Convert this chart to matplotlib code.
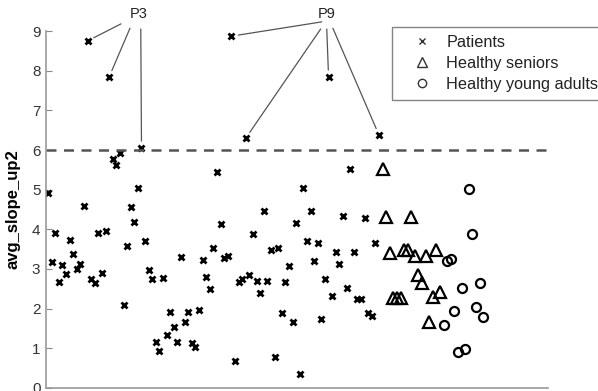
import numpy as np
import matplotlib
matplotlib.use("Agg")
import matplotlib.pyplot as plt
from matplotlib.lines import Line2D

plt.rcParams['font.family'] = ['Liberation Sans', 'DejaVu Sans']

# avg_slope_up2 per subject, in plotting order
patients = [4.91, 3.18, 3.91, 2.67, 3.10, 2.87, 3.73, 3.38, 3.00, 3.13,
            4.59, 8.75, 2.75, 2.65, 3.91, 2.90, 3.96, 7.84, 5.77, 5.62,
            5.93, 2.09, 3.58, 4.56, 4.18, 5.04, 6.05, 3.71, 2.97, 2.75,
            1.16, 0.93, 2.77, 1.34, 1.92, 1.54, 1.16, 3.30, 1.66, 1.92,
            1.13, 1.03, 1.97, 3.22, 2.80, 2.49, 3.53, 5.44, 4.13, 3.28,
            3.33, 8.87, 0.68, 2.67, 2.75, 6.30, 2.85, 3.88, 2.70, 2.40,
            4.46, 2.70, 3.48, 0.78, 3.53, 1.89, 2.67, 3.07, 1.66, 4.16,
            0.36, 5.04, 3.71, 4.46, 3.20, 3.65, 1.74, 2.75, 7.84, 2.32,
            3.43, 3.13, 4.34, 2.52, 5.52, 3.43, 2.24, 2.24, 4.29, 1.89,
            1.82, 3.65, 6.38]
seniors = [5.52, 4.31, 3.40, 2.27, 2.27, 2.27, 3.48, 3.48, 4.31, 3.33,
           2.85, 2.65, 3.33, 1.66, 2.29, 3.48, 2.42]
young = [1.59, 3.20, 3.25, 1.94, 0.91, 2.52, 0.98, 5.02, 3.88, 2.04,
         2.65, 1.79]

threshold = 6
# labelled outliers: subject number -> label
p3_subjects = [12, 18, 27]
p9_subjects = [52, 56, 79, 93]

n_p = len(patients)
n_s = len(seniors)
x_p = np.arange(1, n_p + 1)
x_s = np.arange(n_p + 1, n_p + n_s + 1)
x_y = np.arange(n_p + n_s + 1, n_p + n_s + len(young) + 1)

fig = plt.figure(figsize=(5.98, 3.91), dpi=100)
ax = fig.add_axes([0.0769, 0.0077, 0.8395, 0.913])

ax.plot(x_p, patients, 'x', color='k', ms=5, mew=2)
ax.plot(x_s, seniors, '^', color='k', mfc='none', ms=9, mew=1.6)
ax.plot(x_y, young, 'o', color='k', mfc='none', ms=6.5, mew=1.6)

ax.axhline(threshold, color='#555555', lw=1.8, ls=(0, (4, 3)), clip_on=False,
           xmax=1.005)

ax.set_xlim(0.45, 140)
ax.set_ylim(0, 9)
ax.set_yticks(range(0, 10))
ax.set_xticks([])
ax.tick_params(axis='y', direction='in', length=4, color='#888888',
               labelsize=11, labelcolor='#333333', pad=4)
for s in ['top', 'right']:
    ax.spines[s].set_visible(False)
for s in ['left', 'bottom']:
    ax.spines[s].set_color('#999999')
    ax.spines[s].set_linewidth(1.2)
ax.set_ylabel('avg_slope_up2', fontsize=12, fontweight='bold', labelpad=8)

# annotation lines
line_kw = dict(arrowstyle='-', color='#555555', lw=0.9, shrinkA=0, shrinkB=5)
p3_starts = [(21.3, 9.18), (23.8, 9.07), (26.8, 9.05)]
for s, start in zip(p3_subjects, p3_starts):
    ax.annotate('', xy=(s, patients[s - 1]), xytext=start,
                arrowprops=line_kw, annotation_clip=False)
p9_starts = [(77.1, 9.23), (76.8, 9.05), (78.5, 9.05), (80.2, 9.07)]
for s, start in zip(p9_subjects, p9_starts):
    ax.annotate('', xy=(s, patients[s - 1]), xytext=start,
                arrowprops=line_kw, annotation_clip=False)
ax.text(26.3, 9.42, 'P3', ha='center', va='center', fontsize=10.5, color='#222222')
ax.text(78.6, 9.42, 'P9', ha='center', va='center', fontsize=10.5, color='#222222')

handles = [
    Line2D([], [], ls='none', marker='x', color='#333333', ms=5, mew=1),
    Line2D([], [], ls='none', marker='^', color='#333333', mfc='none', ms=7, mew=1),
    Line2D([], [], ls='none', marker='o', color='#333333', mfc='none', ms=6, mew=1),
]
labels = ['Patients', 'Healthy seniors', 'Healthy young adults']
leg = fig.legend(handles, labels, loc='upper left',
                 bbox_to_anchor=(392 / 598, 1 - 27 / 391), fontsize=11.7,
                 frameon=True, fancybox=False, edgecolor='#666666',
                 borderpad=0.5, labelspacing=0.36, handletextpad=0.1,
                 handlelength=2.75, borderaxespad=0)
leg.get_frame().set_linewidth(1.0)
for t in leg.get_texts():
    t.set_color('#222222')

fig.savefig('out.png', dpi=100)
